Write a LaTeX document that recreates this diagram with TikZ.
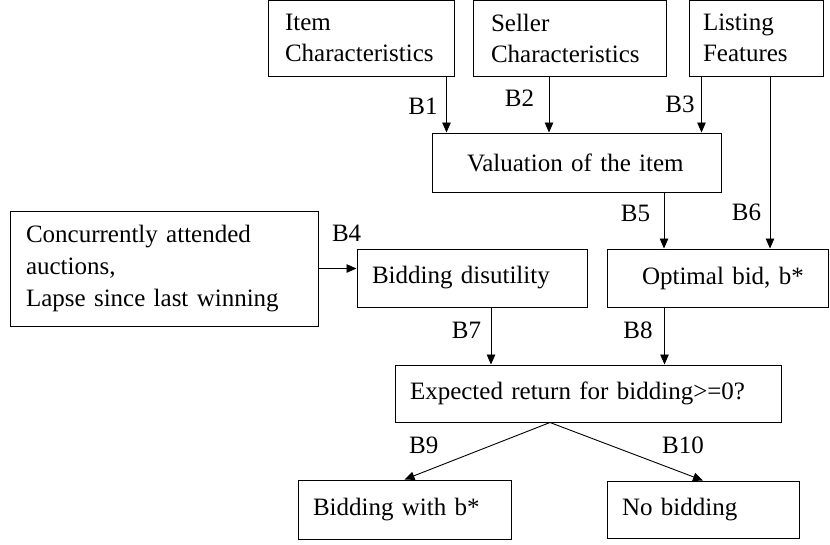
\documentclass[tikz,border=0pt]{standalone}
\usepackage{fontspec}
\setmainfont{Liberation Serif}
\usepackage{tikz}
\usetikzlibrary{arrows.meta,positioning}

\begin{document}
\begin{tikzpicture}[x=1pt, y=-1pt, font=\fontsize{25}{31}\selectfont]
    % Define block styles
    \tikzstyle{block} = [rectangle, draw=black, line width=1pt, inner xsep=15pt, inner ysep=0pt, minimum height=58pt, align=left]
    \tikzstyle{topbox} = [rectangle, draw=black, line width=1pt, inner xsep=18pt, inner ysep=0pt, minimum height=76pt, align=left]
    \tikzstyle{arrow} = [line width=0.9pt, -{Triangle[length=10pt,width=8.5pt]}]
    \tikzstyle{edgelabel} = [inner sep=0pt]

    \useasboundingbox (0,0) rectangle (830,544);

    % Nodes
    \node (item) [topbox, inner xsep=17pt, text width=152pt] at (361,38) {Item\\Characteristics};
    \node (seller) [topbox, text width=157pt] at (569.5,38) {Seller\\Characteristics};
    \node (listing) [topbox, inner xsep=14pt, text width=106pt] at (756,38) {Listing\\Features};
    \node (valuation) [block, inner xsep=35pt, text width=219pt, minimum height=59pt] at (576.5,162.5) {Valuation of the item};
    \node (concur) [block, inner xsep=16pt, text width=276pt, minimum height=115pt, font=\fontsize{25}{32}\selectfont] at (164,268.5) {Concurrently attended\\auctions,\\Lapse since last winning};
    \node (disutil) [block, text width=200pt] at (472,278) {Bidding disutility};
    \node (optimal) [block, text width=191pt] at (717.5,278) {\hspace*{20pt}Optimal bid, b*};
    \node (expected) [block, text width=356pt, minimum height=57pt] at (588,393.5) {Expected return for bidding>=0?};
    \node (bidwith) [block, text width=183pt, minimum height=59pt] at (404.5,509.5) {Bidding with b*};
    \node (nobid) [block, text width=162pt, minimum height=57pt] at (703,509.5) {No bidding};

    % Arrow start points
    \coordinate (b1) at ([xshift=-8pt]item.south east);
    \coordinate (b2) at ([xshift=-20.5pt]seller.south);
    \coordinate (b3) at ([xshift=13pt]listing.south west);
    \coordinate (b6) at ([xshift=14pt]listing.south);
    \coordinate (b5) at ([xshift=87.5pt]valuation.south);
    \coordinate (b7) at ([xshift=19pt]disutil.south);
    \coordinate (b8) at ([xshift=58pt]optimal.south west);
    \coordinate (split) at ([xshift=-38pt]expected.south);

    % Arrows between nodes
    \draw [arrow] (b1) -- (b1 |- valuation.north) node [edgelabel, pos=0.54, left=8.5pt] {B1};
    \draw [arrow] (b2) -- (b2 |- valuation.north) node [edgelabel, pos=0.39, left=14.5pt] {B2};
    \draw [arrow] (b3) -- (b3 |- valuation.north) node [edgelabel, pos=0.5, left=6.5pt] {B3};
    \draw [arrow] (concur.east) -- (concur.east -| disutil.west) node [edgelabel, pos=0.74, above=26.7pt] {B4};
    \draw [arrow] (b5) -- (b5 |- optimal.north) node [edgelabel, pos=0.37, left=13.5pt] {B5};
    \draw [arrow] (b6) -- (b6 |- optimal.north) node [edgelabel, pos=0.79, left=8.5pt] {B6};
    \draw [arrow] (b7) -- (b7 |- expected.north) node [edgelabel, pos=0.4, left=9.5pt] {B7};
    \draw [arrow] (b8) -- (b8 |- expected.north) node [edgelabel, pos=0.4, left=11.5pt] {B8};
    \draw [arrow] (split) -- (bidwith.north) node [edgelabel, pos=0.4, left=53pt] {B9};
    \draw [arrow] (split) -- (nobid.north) node [edgelabel, pos=0.39, right=52pt] {B10};
\end{tikzpicture}
\end{document}
